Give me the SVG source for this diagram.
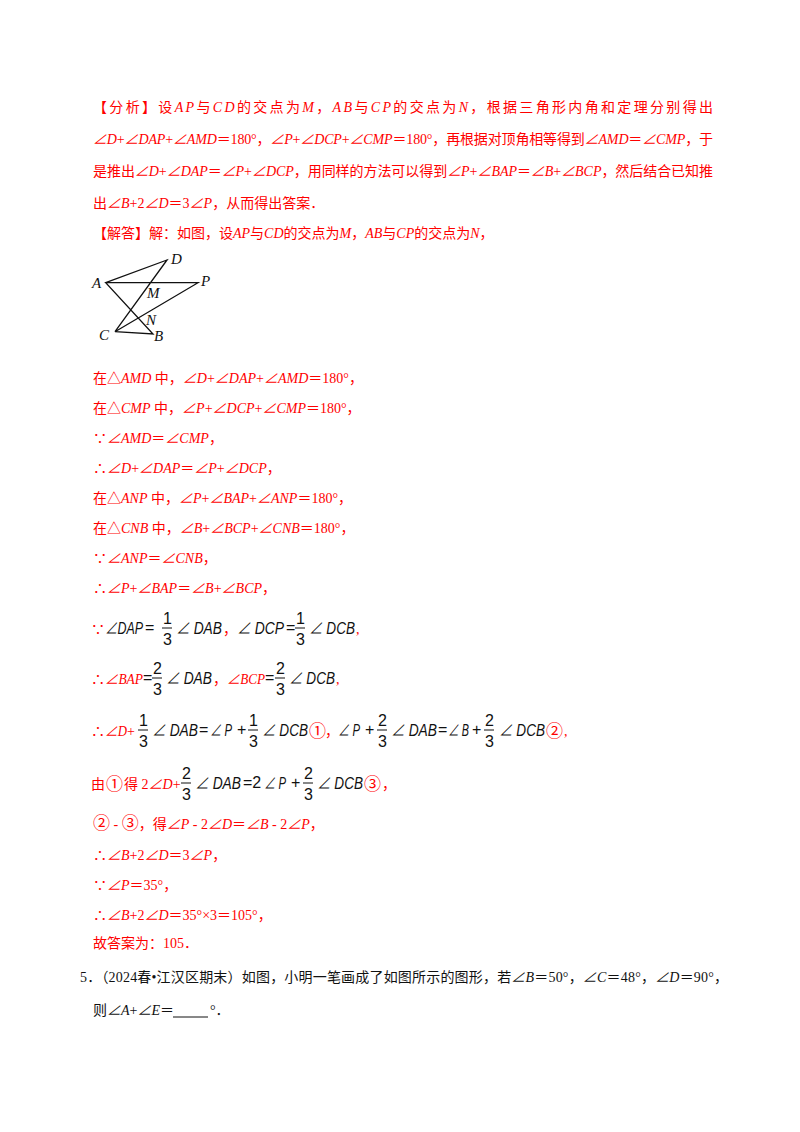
<svg xmlns="http://www.w3.org/2000/svg" width="800" height="1132" viewBox="0 0 800 1132">
<style>
text{font-family:"Liberation Serif","Noto Sans CJK SC",serif;font-size:14px}
.r{fill:#f00}
.i{font-style:italic}
.m{font-family:"Liberation Sans","Noto Sans CJK SC",sans-serif;font-style:italic;font-size:17px;fill:#111}
.f{font-family:"Liberation Sans",sans-serif;font-size:16px;fill:#111}
.c{font-family:"Noto Sans CJK SC",sans-serif;font-size:17px;fill:#f00}
.fl{stroke:#111;stroke-width:1}
.g{stroke:#111;stroke-width:1.3;fill:none}
.lb{font-family:"Liberation Serif",serif;font-style:italic;font-size:15px;fill:#111}
</style>
<rect width="800" height="1132" fill="#fff"/>
<g id="analysis" class="r">
<text x="93" y="112" textLength="620" lengthAdjust="spacing">【分析】设<tspan class="i">AP</tspan>与<tspan class="i">CD</tspan>的交点为<tspan class="i">M</tspan>，<tspan class="i">AB</tspan>与<tspan class="i">CP</tspan>的交点为<tspan class="i">N</tspan>，根据三角形内角和定理分别得出</text>
<text x="93" y="144" textLength="620" lengthAdjust="spacing"><tspan class="i">∠D</tspan>+<tspan class="i">∠DAP</tspan>+<tspan class="i">∠AMD</tspan>＝180°，<tspan class="i">∠P</tspan>+<tspan class="i">∠DCP</tspan>+<tspan class="i">∠CMP</tspan>＝180°，再根据对顶角相等得到<tspan class="i">∠AMD</tspan>＝<tspan class="i">∠CMP</tspan>，于</text>
<text x="93" y="176" textLength="620" lengthAdjust="spacing">是推出<tspan class="i">∠D</tspan>+<tspan class="i">∠DAP</tspan>＝<tspan class="i">∠P</tspan>+<tspan class="i">∠DCP</tspan>，用同样的方法可以得到<tspan class="i">∠P</tspan>+<tspan class="i">∠BAP</tspan>＝<tspan class="i">∠B</tspan>+<tspan class="i">∠BCP</tspan>，然后结合已知推</text>
<text x="93" y="208">出<tspan class="i">∠B</tspan>+2<tspan class="i">∠D</tspan>＝3<tspan class="i">∠P</tspan>，从而得出答案．</text>
<text x="93" y="238">【解答】解：如图，设<tspan class="i">AP</tspan>与<tspan class="i">CD</tspan>的交点为<tspan class="i">M</tspan>，<tspan class="i">AB</tspan>与<tspan class="i">CP</tspan>的交点为<tspan class="i">N</tspan>，</text>
</g>
<g id="figure">
<path class="g" d="M105.7,282.7 L167,260 L115,331.7 L198,282.7 L105.7,282.7 L153,334 L115,331.7"/>
<text class="lb" x="92" y="288">A</text>
<text class="lb" x="171" y="264">D</text>
<text class="lb" x="201" y="286">P</text>
<text class="lb" x="147" y="298">M</text>
<text class="lb" x="146" y="325">N</text>
<text class="lb" x="99" y="340">C</text>
<text class="lb" x="154" y="341">B</text>
</g>
<g id="steps" class="r">
<text x="93" y="383">在△<tspan class="i">AMD</tspan> 中，<tspan class="i">∠D</tspan>+<tspan class="i">∠DAP</tspan>+<tspan class="i">∠AMD</tspan>＝180°，</text>
<text x="93" y="413">在△<tspan class="i">CMP</tspan> 中，<tspan class="i">∠P</tspan>+<tspan class="i">∠DCP</tspan>+<tspan class="i">∠CMP</tspan>＝180°，</text>
<text x="93" y="443">∵<tspan class="i">∠AMD</tspan>＝<tspan class="i">∠CMP</tspan>，</text>
<text x="93" y="473">∴<tspan class="i">∠D</tspan>+<tspan class="i">∠DAP</tspan>＝<tspan class="i">∠P</tspan>+<tspan class="i">∠DCP</tspan>，</text>
<text x="93" y="503">在△<tspan class="i">ANP</tspan> 中，<tspan class="i">∠P</tspan>+<tspan class="i">∠BAP</tspan>+<tspan class="i">∠ANP</tspan>＝180°，</text>
<text x="93" y="533">在△<tspan class="i">CNB</tspan> 中，<tspan class="i">∠B</tspan>+<tspan class="i">∠BCP</tspan>+<tspan class="i">∠CNB</tspan>＝180°，</text>
<text x="93" y="563">∵<tspan class="i">∠ANP</tspan>＝<tspan class="i">∠CNB</tspan>，</text>
<text x="93" y="593">∴<tspan class="i">∠P</tspan>+<tspan class="i">∠BAP</tspan>＝<tspan class="i">∠B</tspan>+<tspan class="i">∠BCP</tspan>，</text>
</g>
<g id="fractions">
<text class="r" x="91" y="634">∵</text>
<text class="m" x="105" y="634" textLength="38" lengthAdjust="spacingAndGlyphs">∠DAP</text>
<text class="f" x="145" y="633">=</text>
<text class="f" x="163" y="624">1</text><line class="fl" x1="162" y1="628" x2="172" y2="628"/><text class="f" x="163" y="645">3</text>
<text class="m" x="176" y="634" textLength="46" lengthAdjust="spacingAndGlyphs">∠ DAB</text>
<text class="r" x="223" y="634">，</text>
<text class="m" x="237" y="634" textLength="47" lengthAdjust="spacingAndGlyphs">∠ DCP</text>
<text class="f" x="286" y="633">=</text>
<text class="f" x="296" y="624">1</text><line class="fl" x1="295" y1="628" x2="305" y2="628"/><text class="f" x="296" y="645">3</text>
<text class="m" x="309" y="634" textLength="46" lengthAdjust="spacingAndGlyphs">∠ DCB</text>
<text class="r" x="356" y="634">,</text>
<text class="r" x="91" y="684">∴</text>
<text class="r i" x="105" y="684" textLength="38" lengthAdjust="spacingAndGlyphs">∠BAP</text>
<text class="f" x="143" y="683">=</text>
<text class="f" x="153" y="674">2</text><line class="fl" x1="152" y1="678" x2="162" y2="678"/><text class="f" x="153" y="695">3</text>
<text class="m" x="166" y="684" textLength="46" lengthAdjust="spacingAndGlyphs">∠ DAB</text>
<text class="r" x="213" y="684">，</text>
<text class="r i" x="227" y="684" textLength="38" lengthAdjust="spacingAndGlyphs">∠BCP</text>
<text class="f" x="265" y="683">=</text>
<text class="f" x="276" y="674">2</text><line class="fl" x1="275" y1="678" x2="285" y2="678"/><text class="f" x="276" y="695">3</text>
<text class="m" x="289" y="684" textLength="46" lengthAdjust="spacingAndGlyphs">∠ DCB</text>
<text class="r" x="336" y="684">,</text>
<text class="r" x="91" y="736">∴</text>
<text class="r i" x="105" y="736" textLength="22" lengthAdjust="spacingAndGlyphs">∠D</text><text class="r" x="127" y="736">+</text>
<text class="f" x="139" y="726">1</text><line class="fl" x1="138" y1="730" x2="148" y2="730"/><text class="f" x="139" y="747">3</text>
<text class="m" x="152" y="736" textLength="46" lengthAdjust="spacingAndGlyphs">∠ DAB</text>
<text class="f" x="199" y="735">=</text>
<text class="m" x="210" y="736" textLength="22" lengthAdjust="spacingAndGlyphs">∠ P</text>
<text class="f" x="237" y="735">+</text>
<text class="f" x="249" y="726">1</text><line class="fl" x1="248" y1="730" x2="258" y2="730"/><text class="f" x="249" y="747">3</text>
<text class="m" x="262" y="736" textLength="46" lengthAdjust="spacingAndGlyphs">∠ DCB</text>
<text class="c" x="309" y="737">①</text>
<text class="r" x="325" y="736">，</text>
<text class="m" x="338" y="736" textLength="22" lengthAdjust="spacingAndGlyphs">∠ P</text>
<text class="f" x="365" y="735">+</text>
<text class="f" x="378" y="726">2</text><line class="fl" x1="377" y1="730" x2="387" y2="730"/><text class="f" x="378" y="747">3</text>
<text class="m" x="391" y="736" textLength="46" lengthAdjust="spacingAndGlyphs">∠ DAB</text>
<text class="f" x="438" y="735">=</text>
<text class="m" x="448" y="736" textLength="21" lengthAdjust="spacingAndGlyphs">∠ B</text>
<text class="f" x="472" y="735">+</text>
<text class="f" x="485" y="726">2</text><line class="fl" x1="484" y1="730" x2="494" y2="730"/><text class="f" x="485" y="747">3</text>
<text class="m" x="499" y="736" textLength="46" lengthAdjust="spacingAndGlyphs">∠ DCB</text>
<text class="c" x="546" y="737">②</text>
<text class="r" x="564" y="736">,</text>
<text class="r" x="91" y="789">由</text>
<text class="c" x="106" y="790">①</text>
<text class="r" x="124" y="789">得 2<tspan class="i">∠D</tspan>+</text>
<text class="f" x="182" y="779">2</text><line class="fl" x1="181" y1="783" x2="191" y2="783"/><text class="f" x="182" y="800">3</text>
<text class="m" x="195" y="789" textLength="46" lengthAdjust="spacingAndGlyphs">∠ DAB</text>
<text class="f" x="243" y="788">=2</text>
<text class="m" x="264" y="789" textLength="22" lengthAdjust="spacingAndGlyphs">∠ P</text>
<text class="f" x="291" y="788">+</text>
<text class="f" x="304" y="779">2</text><line class="fl" x1="303" y1="783" x2="313" y2="783"/><text class="f" x="304" y="800">3</text>
<text class="m" x="317" y="789" textLength="46" lengthAdjust="spacingAndGlyphs">∠ DCB</text>
<text class="c" x="364" y="790">③</text>
<text class="r" x="382" y="789">，</text>
</g>
<g id="tail" class="r">
<text x="93" y="829"><tspan style="font-family:'Noto Sans CJK SC';font-size:17px">②</tspan> - <tspan style="font-family:'Noto Sans CJK SC';font-size:17px">③</tspan>，得<tspan class="i">∠P</tspan> - 2<tspan class="i">∠D</tspan>＝<tspan class="i">∠B</tspan> - 2<tspan class="i">∠P</tspan>，</text>
<text x="93" y="860">∴<tspan class="i">∠B</tspan>+2<tspan class="i">∠D</tspan>＝3<tspan class="i">∠P</tspan>，</text>
<text x="93" y="890">∵<tspan class="i">∠P</tspan>＝35°，</text>
<text x="93" y="920">∴<tspan class="i">∠B</tspan>+2<tspan class="i">∠D</tspan>＝35°×3＝105°，</text>
<text x="93" y="948">故答案为：105．</text>
</g>
<g id="problem5" fill="#111">
<text x="80" y="982" textLength="648" lengthAdjust="spacing">5．（2024春•江汉区期末）如图，小明一笔画成了如图所示的图形，若<tspan class="i">∠B</tspan>＝50°，<tspan class="i">∠C</tspan>＝48°，<tspan class="i">∠D</tspan>＝90°，</text>
<text x="93" y="1015">则<tspan class="i">∠A</tspan>+<tspan class="i">∠E</tspan>＝</text>
<line x1="173" y1="1017" x2="208" y2="1017" stroke="#111" stroke-width="1"/>
<text x="210" y="1015">°．</text>
</g>
</svg>
